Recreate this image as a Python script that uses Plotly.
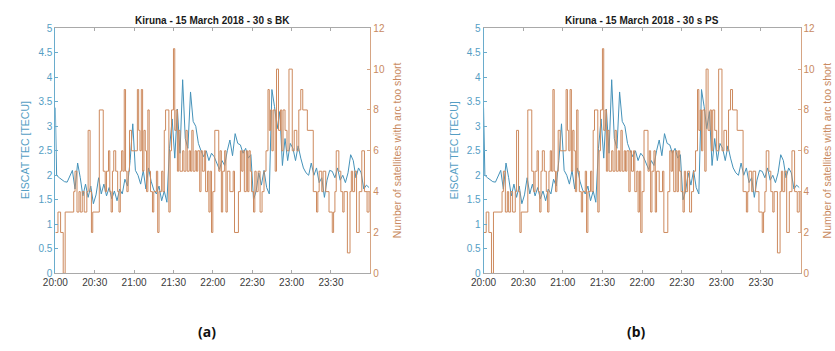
import plotly.graph_objects as go

W, H = 835, 351

# ---------------- data ----------------
tick_minutes = [0, 30, 60, 90, 120, 150, 180, 210]
tick_labels = ["20:00", "20:30", "21:00", "21:30", "22:00", "22:30", "23:00", "23:30"]

# EISCAT TEC (minutes after 20:00)
tec_minutes = [0] + list(range(1, 240, 2))
tec_values = [
    3.38,
    2.0, 1.95, 1.9, 1.87, 1.86, 1.98, 2.1, 1.72, 2.25, 1.95,
    1.58, 1.82, 1.55, 1.78, 1.42, 1.6, 1.95, 1.62, 1.82, 1.58,
    1.75, 1.52, 1.68, 1.48, 1.72, 1.62, 1.92, 1.78, 2.3, 3.05,
    2.1, 2.0, 1.82, 2.1, 1.72, 2.15, 1.88, 1.7, 1.62, 1.78,
    1.48, 1.68, 1.45, 2.55, 3.15, 2.35, 3.35, 2.45, 3.95, 2.75,
    2.55, 3.7, 3.1, 3.0, 2.65, 2.5, 2.38, 2.5, 2.3, 2.45,
    2.38, 2.25, 2.12, 2.3, 2.2, 2.5, 2.72, 2.4, 2.85, 2.65,
    2.62, 2.45, 2.55, 2.35, 2.42, 1.5, 1.68, 2.05, 1.8, 2.1,
    1.75, 1.62, 3.75, 3.4, 2.95, 3.3, 2.2, 2.75, 2.3, 2.65,
    2.55, 2.3, 2.6, 2.35, 2.15, 2.05, 2.0, 2.25, 2.0, 2.15,
    1.85, 1.95, 1.55, 1.9, 2.1, 2.08, 1.95, 2.15, 1.9, 2.0,
    1.85, 2.05, 2.42, 2.3, 1.95, 2.15, 2.05, 1.72, 1.8, 1.75,
]

# Number of satellites with arc too short (step changes, minutes after 20:00)
sat_minutes = [
    0, 2, 4, 6, 7.5, 14, 15, 16.5, 18, 19, 20.5, 22, 24, 25, 26.5, 27.5, 28.5,
    33.5, 36.5, 38, 39, 40.5, 41.5, 42.5, 43.5, 44.5, 46, 47.5, 48.5, 49.5,
    50.5, 51.5, 52.5, 53.5, 54.5, 55.5, 56.5, 58, 62.5, 63.5, 64.5, 65.5,
    66.5, 67.5, 68.5, 69.5, 70.5, 71.5, 72.5, 74, 75, 77, 78, 79, 81, 82,
    83, 84, 86.5, 87.5, 88.5, 90, 91, 92, 93, 94, 95, 97, 98, 99.5, 100.5,
    102, 103, 104, 105, 106.5, 107.5, 108.5, 110, 111, 112, 113.5, 114.5,
    116, 117, 118, 119, 120, 121.5, 124.5, 125.5, 126.5, 127.5, 129, 130,
    131, 133, 135.5, 136.5, 139.5, 141, 142, 143, 144, 145.5, 146.5, 147.5,
    148.5, 149.5, 151, 152, 153, 154.5, 156, 157.5, 159, 160.5, 162, 163,
    164, 165, 166, 167.5, 168.5, 170, 171.5, 172.5, 173.5, 175, 176.5, 178,
    180.5, 182, 184, 185.5, 187, 188.5, 192, 196.5, 199, 200, 201, 203, 204,
    206, 208.5, 211, 212, 213, 214, 216, 217.5, 219, 220, 222.5, 224.5, 225.5,
    226.5, 228, 229.5, 231.5, 233.5, 235.5, 237.5, 239, 240,
]
sat_bk = [
    2, 3, 2, 0, 3, 4, 5, 3, 4, 3, 4, 3, 4, 7, 4, 2, 3,
    8, 5, 4, 5, 6, 4, 3, 5, 6, 5, 4, 3, 5,
    6, 5, 9, 5, 4, 5, 7, 6, 9, 7, 6, 9,
    5, 7, 6, 4, 8, 5, 4, 3, 4, 5, 2, 4, 5, 4,
    7, 8, 3, 6, 8, 11, 7, 8, 5, 7, 5, 6, 5, 7, 5,
    6, 5, 7, 5, 6, 5, 6, 4, 6, 5, 6, 4,
    5, 3, 5, 2, 4, 7, 5, 6, 3, 5, 6, 3,
    5, 4, 5, 2, 4, 6, 5, 6, 4, 6, 4, 6,
    5, 4, 3, 5, 4, 5, 3, 4, 5, 6, 9, 7,
    8, 6, 8, 5, 10, 7, 8, 6, 8, 7, 6, 10,
    6, 7, 6, 8, 9, 8, 7, 4, 3, 4, 5, 4, 5,
    4, 3, 2, 3, 4, 6, 5, 4, 3, 4, 1, 4, 5,
    4, 5, 2, 4, 6, 4, 3, 4, 2, 2,
]
sat_ps = list(sat_bk)

titles = ["Kiruna - 15 March 2018 - 30 s BK", "Kiruna - 15 March 2018 - 30 s PS"]
panel_labels = ["(a)", "(b)"]

# ---------------- style ----------------
BLUE_LINE = "#4592b9"
BLUE_TXT = "#559ec4"
BLUE_AX = "#6aaccc"
ORANGE_LINE = "#cd8a5e"
ORANGE_TXT = "#c98a61"
ORANGE_AX = "#d6a584"
GRAY_AX = "#a9a9a9"
FONT = "Liberation Sans, Arial, sans-serif"

def px_x(px):
    return px / W

def px_y(py):
    return 1 - py / H

panels = [
    dict(x0=43, x1=363, sat=sat_bk),
    dict(x0=478, x1=800, sat=sat_ps),
]
y_dom = [px_y(277), px_y(24)]

fig = go.Figure()
layout = dict(
    width=W, height=H, margin=dict(l=0, r=0, t=0, b=0),
    paper_bgcolor="white", plot_bgcolor="white", showlegend=False,
    font=dict(family=FONT, size=10, color="#404040"),
)
annotations = []

for i, p in enumerate(panels):
    xa = "x" if i == 0 else "x2"
    ya_l = "y" if i == 0 else "y3"
    ya_r = "y2" if i == 0 else "y4"
    xkey = "xaxis" if i == 0 else "xaxis2"
    ylkey = "yaxis" if i == 0 else "yaxis3"
    yrkey = "yaxis2" if i == 0 else "yaxis4"

    fig.add_trace(go.Scatter(x=tec_minutes, y=tec_values, mode="lines",
                             line=dict(color=BLUE_LINE, width=1),
                             xaxis=xa, yaxis=ya_l, hoverinfo="skip"))
    fig.add_trace(go.Scatter(x=sat_minutes, y=p["sat"], mode="lines",
                             line=dict(color=ORANGE_LINE, width=1, shape="hv"),
                             xaxis=xa, yaxis=ya_r, hoverinfo="skip"))

    layout[xkey] = dict(
        domain=[px_x(p["x0"]), px_x(p["x1"])], range=[0, 240],
        tickvals=tick_minutes, ticktext=tick_labels,
        ticks="inside", ticklen=3, tickcolor=GRAY_AX,
        showline=True, linecolor=GRAY_AX, linewidth=1, mirror="ticks",
        showgrid=False, zeroline=False, anchor=ya_l,
        tickfont=dict(size=10, color="#3a3a3a"),
    )
    layout[ylkey] = dict(
        domain=y_dom, range=[0, 5], dtick=0.5, tick0=0,
        ticks="inside", ticklen=3, tickcolor=BLUE_AX,
        showline=True, linecolor=BLUE_AX, linewidth=1,
        showgrid=False, zeroline=False, anchor=xa, side="left",
        tickfont=dict(size=10, color=BLUE_TXT),
    )
    layout[yrkey] = dict(
        range=[0, 12], dtick=2, tick0=0,
        ticks="inside", ticklen=3, tickcolor=ORANGE_AX,
        showline=True, linecolor=ORANGE_AX, linewidth=1,
        showgrid=False, zeroline=False, anchor=xa, side="right",
        overlaying=ya_l, tickfont=dict(size=10, color=ORANGE_TXT),
    )

    cx = (p["x0"] + p["x1"]) / 2
    annotations.append(dict(x=px_x(cx), y=px_y(16), xref="paper", yref="paper",
                            text="<b>" + titles[i] + "</b>", showarrow=False,
                            font=dict(size=10, color="#1a1a1a"),
                            xanchor="center", yanchor="middle"))
    annotations.append(dict(x=px_x(p["x0"] - 30), y=px_y(150), xref="paper", yref="paper",
                            text="EISCAT TEC [TECU]", textangle=-90, showarrow=False,
                            font=dict(size=10.5, color=BLUE_TXT),
                            xanchor="center", yanchor="middle"))
    annotations.append(dict(x=px_x(p["x1"] + 27), y=px_y(150), xref="paper", yref="paper",
                            text="Number of satellites with arc too short", textangle=-90,
                            showarrow=False, font=dict(size=10.5, color=ORANGE_TXT),
                            xanchor="center", yanchor="middle"))
    annotations.append(dict(x=px_x(cx - 6), y=px_y(337), xref="paper", yref="paper",
                            text="<b>" + panel_labels[i] + "</b>", showarrow=False,
                            font=dict(size=14, color="#111111", family="Noto Sans"),
                            xanchor="center", yanchor="middle"))

layout["annotations"] = annotations
fig.update_layout(**layout)
fig.write_html("out.html")
